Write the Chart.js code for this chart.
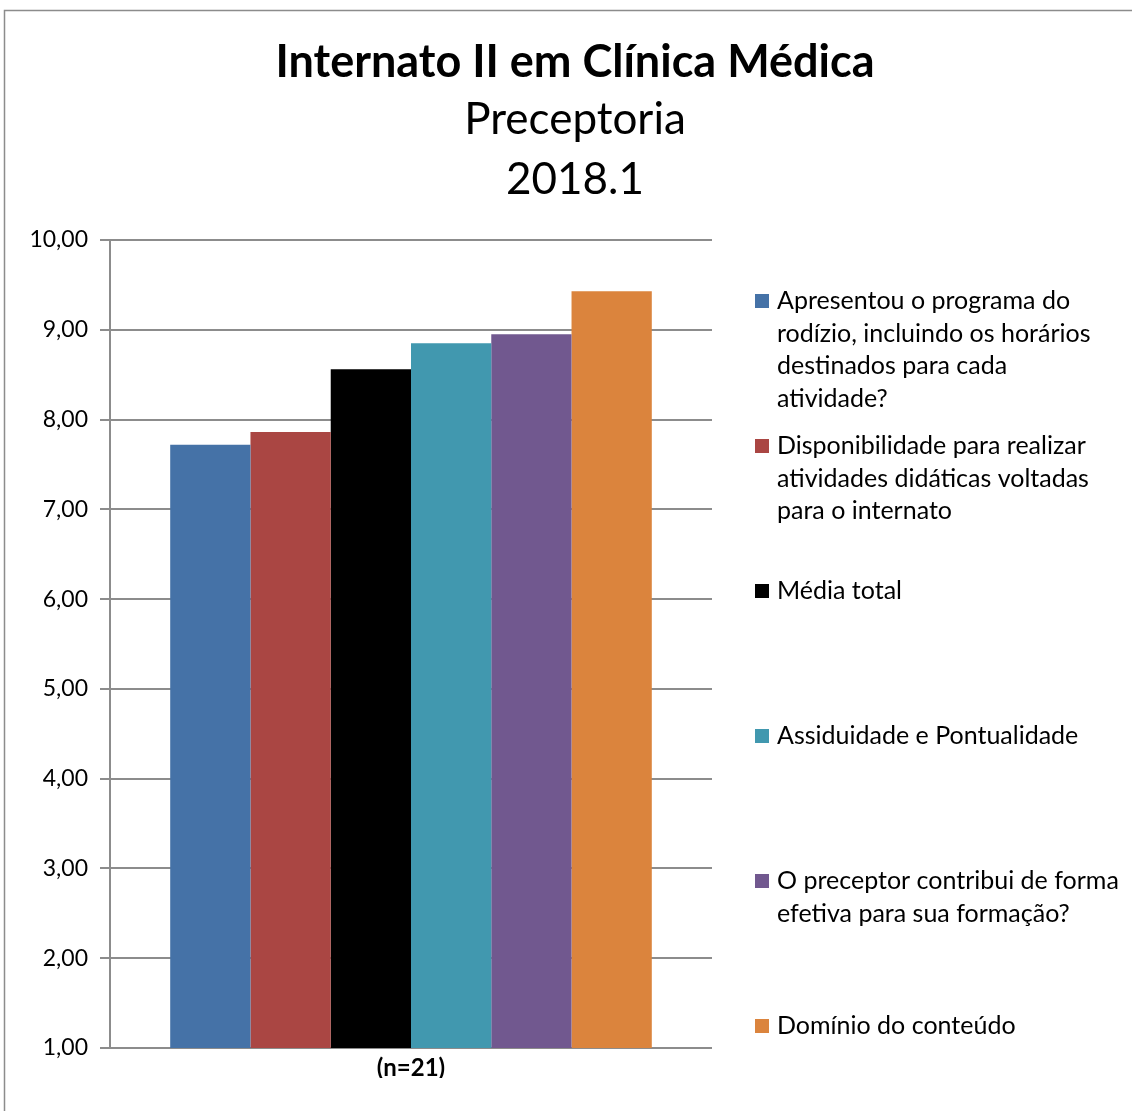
<!DOCTYPE html>
<html lang="pt">
<head>
    <meta charset="UTF-8">
    <title>Internato II em Clínica Médica - Preceptoria 2018.1</title>
    <script src="https://cdn.jsdelivr.net/npm/chart.js"></script>
    <style>
        body { margin: 0; background: #fff; }
        #wrap { width: 1132px; height: 1111px; }
    </style>
</head>
<body>
    <div id="wrap"><canvas id="graph" width="1132" height="1111"></canvas></div>

    <script>
        // Dados do gráfico
        const categories = ['(n=21)'];
        const seriesNames = [
            ['Apresentou o programa do', 'rodízio, incluindo os horários', 'destinados para cada', 'atividade?'],
            ['Disponibilidade para realizar', 'atividades didáticas voltadas', 'para o internato'],
            ['Média total'],
            ['Assiduidade e Pontualidade'],
            ['O preceptor contribui de forma', 'efetiva para sua formação?'],
            ['Domínio do conteúdo']
        ];
        const seriesValues = [7.72, 7.86, 8.56, 8.85, 8.95, 9.43];
        const seriesColors = ['#4572A7', '#AA4643', '#000000', '#4198AF', '#71588F', '#DB843D'];
        const titleLines = ['Internato II em Clínica Médica', 'Preceptoria', '2018.1'];

        const FONT = 'Lato';
        const GRAY = '#8c8c8c';

        // moldura cinza do gráfico
        const framePlugin = {
            id: 'frame',
            beforeDraw(chart) {
                const ctx = chart.ctx;
                ctx.save();
                ctx.fillStyle = '#fff';
                ctx.fillRect(0, 0, chart.width, chart.height);
                ctx.strokeStyle = GRAY;
                ctx.lineWidth = 1.5;
                ctx.beginPath();
                ctx.moveTo(4.5, chart.height);
                ctx.lineTo(4.5, 10.5);
                ctx.lineTo(chart.width, 10.5);
                ctx.stroke();
                ctx.restore();
            }
        };

        // título em três linhas
        const headerPlugin = {
            id: 'header',
            afterDraw(chart) {
                const ctx = chart.ctx;
                ctx.save();
                ctx.fillStyle = '#000';
                ctx.textAlign = 'center';
                ctx.textBaseline = 'middle';
                ctx.font = 'bold 45px ' + FONT;
                ctx.fillText(titleLines[0], 575, 62);
                ctx.font = '44px ' + FONT;
                ctx.fillText(titleLines[1], 575, 120);
                ctx.fillText(titleLines[2], 575, 180);
                ctx.restore();
            }
        };

        // legenda à direita com texto em várias linhas
        const sideLegend = {
            id: 'sideLegend',
            afterDraw(chart) {
                const ctx = chart.ctx;
                const top = chart.chartArea.top + 61;
                ctx.save();
                ctx.font = '25px ' + FONT;
                ctx.textBaseline = 'middle';
                ctx.textAlign = 'left';
                chart.data.datasets.forEach((ds, i) => {
                    const y = top + i * 145;
                    ctx.fillStyle = ds.backgroundColor;
                    ctx.fillRect(755, y - 7, 14, 14);
                    ctx.fillStyle = '#000';
                    seriesNames[i].forEach((line, j) => {
                        ctx.fillText(line, 777, y + j * 32.5);
                    });
                });
                ctx.restore();
            }
        };

        const ctx = document.getElementById('graph').getContext('2d');
        new Chart(ctx, {
            type: 'bar',
            data: {
                labels: categories,
                datasets: seriesValues.map((v, i) => ({
                    label: seriesNames[i].join(' '),
                    data: [v],
                    backgroundColor: seriesColors[i],
                    borderWidth: 0
                }))
            },
            options: {
                responsive: false,
                animation: false,
                layout: { padding: { top: 240, right: 420, bottom: 33, left: 0 } },
                datasets: { bar: { categoryPercentage: 0.8, barPercentage: 1 } },
                plugins: {
                    legend: { display: false },
                    title: { display: false },
                    tooltip: { enabled: false }
                },
                scales: {
                    x: {
                        afterFit(scale) { scale.height = 30; },
                        grid: { display: false },
                        border: { display: false },
                        ticks: { color: '#000', padding: -2, font: { family: FONT, size: 24, weight: 'bold' } }
                    },
                    y: {
                        min: 1,
                        max: 10,
                        afterFit(scale) { scale.width = 110; },
                        ticks: {
                            stepSize: 1,
                            padding: 12,
                            color: '#000',
                            font: { family: FONT, size: 23 },
                            callback: v => v.toFixed(2).replace('.', ',')
                        },
                        grid: { color: GRAY, lineWidth: 2, tickLength: 10 },
                        border: { color: GRAY, width: 2 }
                    }
                }
            },
            plugins: [framePlugin, headerPlugin, sideLegend]
        });
    </script>
</body>
</html>
